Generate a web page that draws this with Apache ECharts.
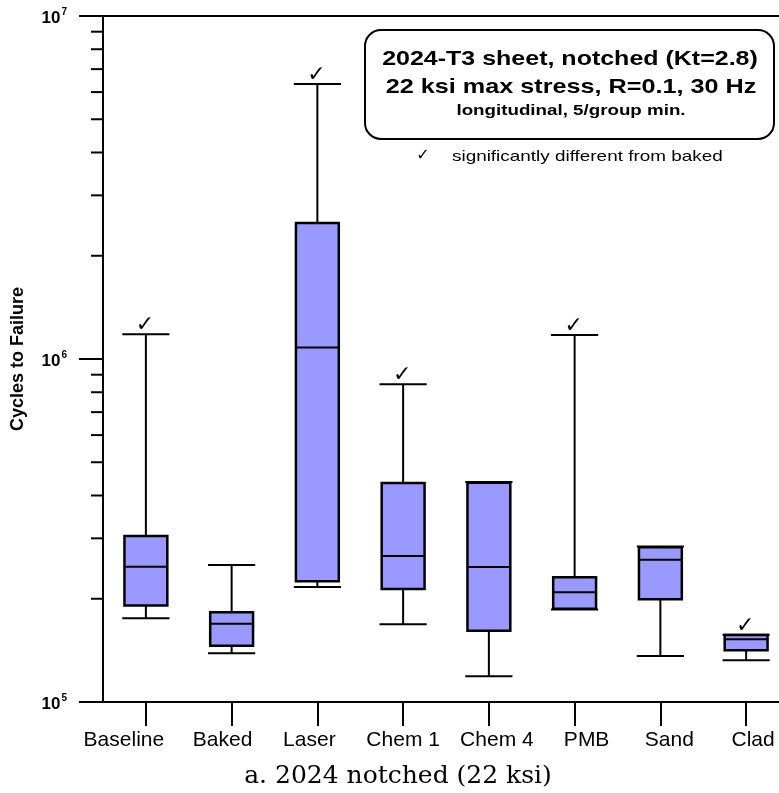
<!DOCTYPE html>
<html>
<head>
<meta charset="utf-8">
<script src="https://cdn.jsdelivr.net/npm/echarts@6/dist/echarts.min.js"></script>
<style>
html,body{margin:0;padding:0;background:#fff;}
#c{width:779px;height:793px;}
</style>
</head>
<body>
<div id="c"></div>
<script>
const categories = ['Baseline', 'Baked', 'Laser', 'Chem 1', 'Chem 4', 'PMB', 'Sand', 'Clad'];
const maxVals    = [1180000, 251000, 6330000, 844000, 438000, 1175000, 284000, 157000];
const q3Vals     = [305000, 182600, 2490000, 435000, 436000, 231000, 282500, 156800];
const medianVals = [248000, 169000, 1080000, 266500, 247500, 209000, 260000, 152300];
const q1Vals     = [191000, 146000, 225000, 213500, 161400, 187100, 199300, 141500];
const minVals    = [175400, 138700, 216400, 168500, 118800, 186100, 136200, 132300];
const significant = [true, false, true, true, false, true, false, true];

// layout only: horizontal nudge of each category label (px), as placed in the original figure
const labelNudge = [-22, -9, -8, 0, 8, 12, 9, 7];

const yMin = 1e5, yMax = 1e7;
const minorTickVals = [];
for (let d = 5; d < 7; d++) {
  for (let m = 2; m <= 9; m++) minorTickVals.push(m * Math.pow(10, d));
}

const boxData = categories.map((c, i) => [i, minVals[i], q1Vals[i], medianVals[i], q3Vals[i], maxVals[i], significant[i] ? 1 : 0]);

const SANS = "'Liberation Sans', Arial, Helvetica, sans-serif";
const chart = echarts.init(document.getElementById('c'), null, {renderer: 'canvas'});

function renderBox(params, api) {
  const idx = api.value(0);
  const band = api.size([1, 0])[0];
  const x = api.coord([idx, api.value(3)])[0];
  const yMinP = api.coord([idx, api.value(1)])[1];
  const yQ1 = api.coord([idx, api.value(2)])[1];
  const yMed = api.coord([idx, api.value(3)])[1];
  const yQ3 = api.coord([idx, api.value(4)])[1];
  const yMaxP = api.coord([idx, api.value(5)])[1];
  const bw = band * 0.5, cw = band * 0.55;
  const ls = {stroke: '#000', lineWidth: 2};
  const children = [
    {type: 'line', shape: {x1: x, y1: yMaxP, x2: x, y2: yQ3}, style: ls},
    {type: 'line', shape: {x1: x, y1: yQ1, x2: x, y2: yMinP}, style: ls},
    {type: 'line', shape: {x1: x - cw / 2, y1: yMaxP, x2: x + cw / 2, y2: yMaxP}, style: ls},
    {type: 'line', shape: {x1: x - cw / 2, y1: yMinP, x2: x + cw / 2, y2: yMinP}, style: ls},
    {type: 'rect', shape: {x: x - bw / 2, y: yQ3, width: bw, height: yQ1 - yQ3},
      style: {fill: '#9999ff', stroke: '#000', lineWidth: 2.5}},
    {type: 'line', shape: {x1: x - bw / 2, y1: yMed, x2: x + bw / 2, y2: yMed}, style: ls}
  ];
  if (api.value(6) === 1) {
    children.push({type: 'text', style: {text: '\u2713', x: x - 1, y: yMaxP + 2,
      font: "22px 'DejaVu Sans', sans-serif", fill: '#000', textAlign: 'center', textVerticalAlign: 'bottom'}});
  }
  return {type: 'group', children: children};
}

function renderMinor(params, api) {
  const y = api.coord([0, api.value(0)])[1];
  const x0 = params.coordSys.x;
  return {type: 'line', shape: {x1: x0 - 12, y1: y, x2: x0, y2: y}, style: {stroke: '#000', lineWidth: 2}};
}

function txt(x, y, text, font, sx, align) {
  return {type: 'text', x: x, y: y, scaleX: sx, style: {text: text, font: font, fill: '#000',
    textAlign: align || 'center', textVerticalAlign: 'middle'}};
}

const labelRich = {};
labelNudge.forEach((n, i) => {
  labelRich['s' + i] = {fontSize: 21, fontFamily: SANS, color: '#000',
    padding: n < 0 ? [0, -2 * n, 0, 0] : [0, 0, 0, 2 * n]};
});

chart.setOption({
  animation: false,
  backgroundColor: '#fff',
  grid: {left: 103, top: 16, bottom: 91, width: 686, containLabel: false, outerBoundsMode: 'none'},
  xAxis: [{
    type: 'category', data: categories, position: 'bottom',
    axisLine: {show: true, lineStyle: {color: '#000', width: 2}},
    axisTick: {show: true, alignWithLabel: true, length: 24, lineStyle: {color: '#000', width: 2}},
    axisLabel: {interval: 0, margin: 28, color: '#000', fontSize: 21, fontFamily: SANS,
      formatter: function (v, i) { return '{s' + i + '|' + v + '}'; }, rich: labelRich},
    splitLine: {show: false}
  }, {
    type: 'category', data: categories, position: 'top',
    axisLine: {show: true, lineStyle: {color: '#000', width: 2}},
    axisTick: {show: false}, axisLabel: {show: false}, splitLine: {show: false}
  }],
  yAxis: {
    type: 'log', logBase: 10, min: yMin, max: yMax,
    name: 'Cycles to Failure', nameLocation: 'middle', nameGap: 76, nameRotate: 90,
    nameTextStyle: {color: '#000', fontSize: 18, fontWeight: 'bold', fontFamily: SANS},
    axisLine: {show: true, lineStyle: {color: '#000', width: 2}},
    axisTick: {show: true, length: 24, lineStyle: {color: '#000', width: 2}},
    minorTick: {show: false},
    splitLine: {show: false},
    axisLabel: {
      margin: 36, color: '#000',
      formatter: function (v) { return '{a|10}{b|' + Math.round(Math.log10(v)) + '}'; },
      rich: {
        a: {fontSize: 17, fontWeight: 'bold', fontFamily: SANS, color: '#000', lineHeight: 22, verticalAlign: 'bottom'},
        b: {fontSize: 10, fontWeight: 'bold', fontFamily: SANS, color: '#000', lineHeight: 22, verticalAlign: 'top', padding: [2, 0, 0, 1]}
      }
    }
  },
  series: [{
    type: 'custom', renderItem: renderMinor, data: minorTickVals.map(v => [v]),
    encode: {y: 0}, clip: false, silent: true, z: 5
  }, {
    type: 'custom', renderItem: renderBox, data: boxData,
    encode: {x: 0, y: [1, 2, 3, 4, 5]}, clip: false, silent: true, z: 3
  }],
  graphic: [
    {type: 'rect', left: 364, top: 29, shape: {width: 409, height: 109, r: 16},
      style: {fill: '#fff', stroke: '#000', lineWidth: 2}},
    txt(570, 59, '2024-T3 sheet, notched (Kt=2.8)', "bold 21px " + SANS, 1.19),
    txt(571, 87, '22 ksi max stress, R=0.1, 30 Hz', "bold 21px " + SANS, 1.2),
    txt(571, 111, 'longitudinal, 5/group min.', "bold 15px " + SANS, 1.25),
    txt(423, 156, '\u2713', "16px 'DejaVu Sans', sans-serif", 1),
    txt(452, 157, 'significantly different from baked', "15px " + SANS, 1.26, 'left'),
    txt(398, 776, 'a. 2024 notched (22 ksi)', "25px 'DejaVu Serif', 'Liberation Serif', serif", 1)
  ]
});
</script>
</body>
</html>
